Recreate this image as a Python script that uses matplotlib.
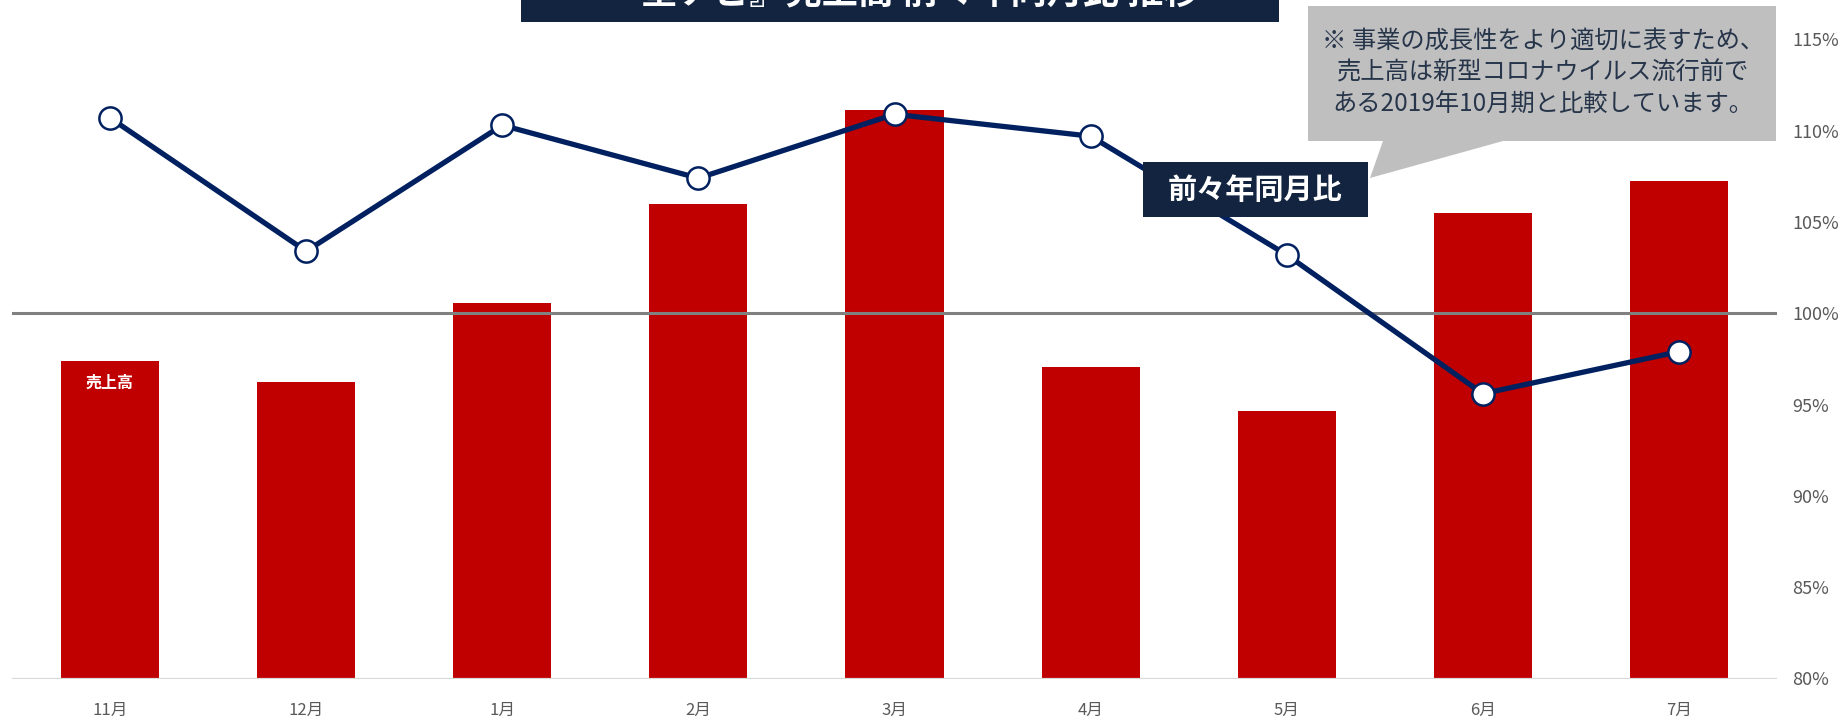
import numpy as np
import matplotlib
matplotlib.use("Agg")
import matplotlib.pyplot as plt
from matplotlib.patches import Rectangle, Polygon

plt.rcParams['font.family'] = ['Noto Sans CJK JP', 'DejaVu Sans']

# === data ===
months = ["11月", "12月", "1月", "2月", "3月", "4月", "5月", "6月", "7月"]
sales_index = [49.7, 46.4, 58.7, 74.2, 88.9, 48.8, 41.8, 72.9, 77.9]   # 売上高 (relative scale)
yoy2_pct = [110.7, 103.4, 110.3, 107.4, 110.9, 109.7, 103.2, 95.6, 97.9]  # 前々年同月比 (%)
pct_ticks = [80, 85, 90, 95, 100, 105, 110, 115]

title = "『星ナビ』売上高 前々年同月比 推移"
note = "※ 事業の成長性をより適切に表すため、\n売上高は新型コロナウイルス流行前で\nある2019年10月期と比較しています。"

RED = "#c00000"
NAVY = "#002060"
BOX = "#12243f"
GREY_TXT = "#595959"

W, H = 1845, 719
fig = plt.figure(figsize=(W / 100, H / 100), dpi=100)


def fx(px):
    return px / W


def fy(py):
    # pixel rows counted from the top
    return 1 - py / H


x = np.arange(len(months))

# bars on a hidden primary axis
ax = fig.add_axes([fx(12), fy(678.5), fx(1777 - 12), fy(39.4) - fy(678.5)])
ax.bar(x, sales_index, width=0.5, color=RED, zorder=2)
ax.set_xlim(-0.5, len(months) - 0.5)
ax.set_ylim(0, 100)
ax.axhline(0, color="#d9d9d9", lw=1.6, zorder=3)
ax.set_yticks([])
ax.set_xticks(x)
ax.set_xticklabels(months, fontsize=12, color=GREY_TXT)
ax.tick_params(axis="x", length=0, pad=17)
for s in ax.spines.values():
    s.set_visible(False)

ax.annotate("売上高", xy=(0, sales_index[0]), xytext=(0, -16), textcoords="offset points",
            ha="center", va="center", color="white", fontsize=11.5, fontweight="bold", zorder=4)

# growth rate line on the right axis
ax2 = ax.twinx()
ax2.set_ylim(80, 115)
ax2.set_yticks(pct_ticks)
ax2.set_yticklabels([f"{v}%" for v in pct_ticks], fontsize=13, color=GREY_TXT)
ax2.tick_params(axis="y", length=0, pad=11)
for s in ax2.spines.values():
    s.set_visible(False)
ax2.axhline(100, color="#808080", lw=2.2, zorder=1)
ax2.plot(x, yoy2_pct, color=NAVY, lw=3.8, marker="o", ms=16,
         mfc="white", mec=NAVY, mew=1.8, zorder=5)

# title banner (runs off the top edge)
fig.patches.append(Rectangle((fx(521), fy(22)), fx(1279 - 521), fy(-20) - fy(22),
                             transform=fig.transFigure, facecolor=BOX, edgecolor="none"))
fig.text(fx(902), fy(-7), title, ha="center", va="center", color="white",
         fontsize=26, fontweight="bold")

# note callout
callout = [(1308, 6), (1776, 6), (1776, 141), (1503, 141), (1370, 178), (1383, 141), (1308, 141)]
fig.patches.append(Polygon([(fx(a), fy(b)) for a, b in callout], closed=True,
                           transform=fig.transFigure, facecolor="#bfbfbf", edgecolor="none"))
fig.text(fx(1543), fy(73), note, ha="center", va="center", multialignment="center",
         fontsize=17.5, color="#26354a", linespacing=1.3)

# series label
fig.patches.append(Rectangle((fx(1143), fy(217)), fx(1368 - 1143), fy(162) - fy(217),
                             transform=fig.transFigure, facecolor=BOX, edgecolor="none"))
fig.text(fx(1255.5), fy(189.5), "前々年同月比", ha="center", va="center", color="white",
         fontsize=21, fontweight="bold")

fig.savefig("out.png", dpi=100)
